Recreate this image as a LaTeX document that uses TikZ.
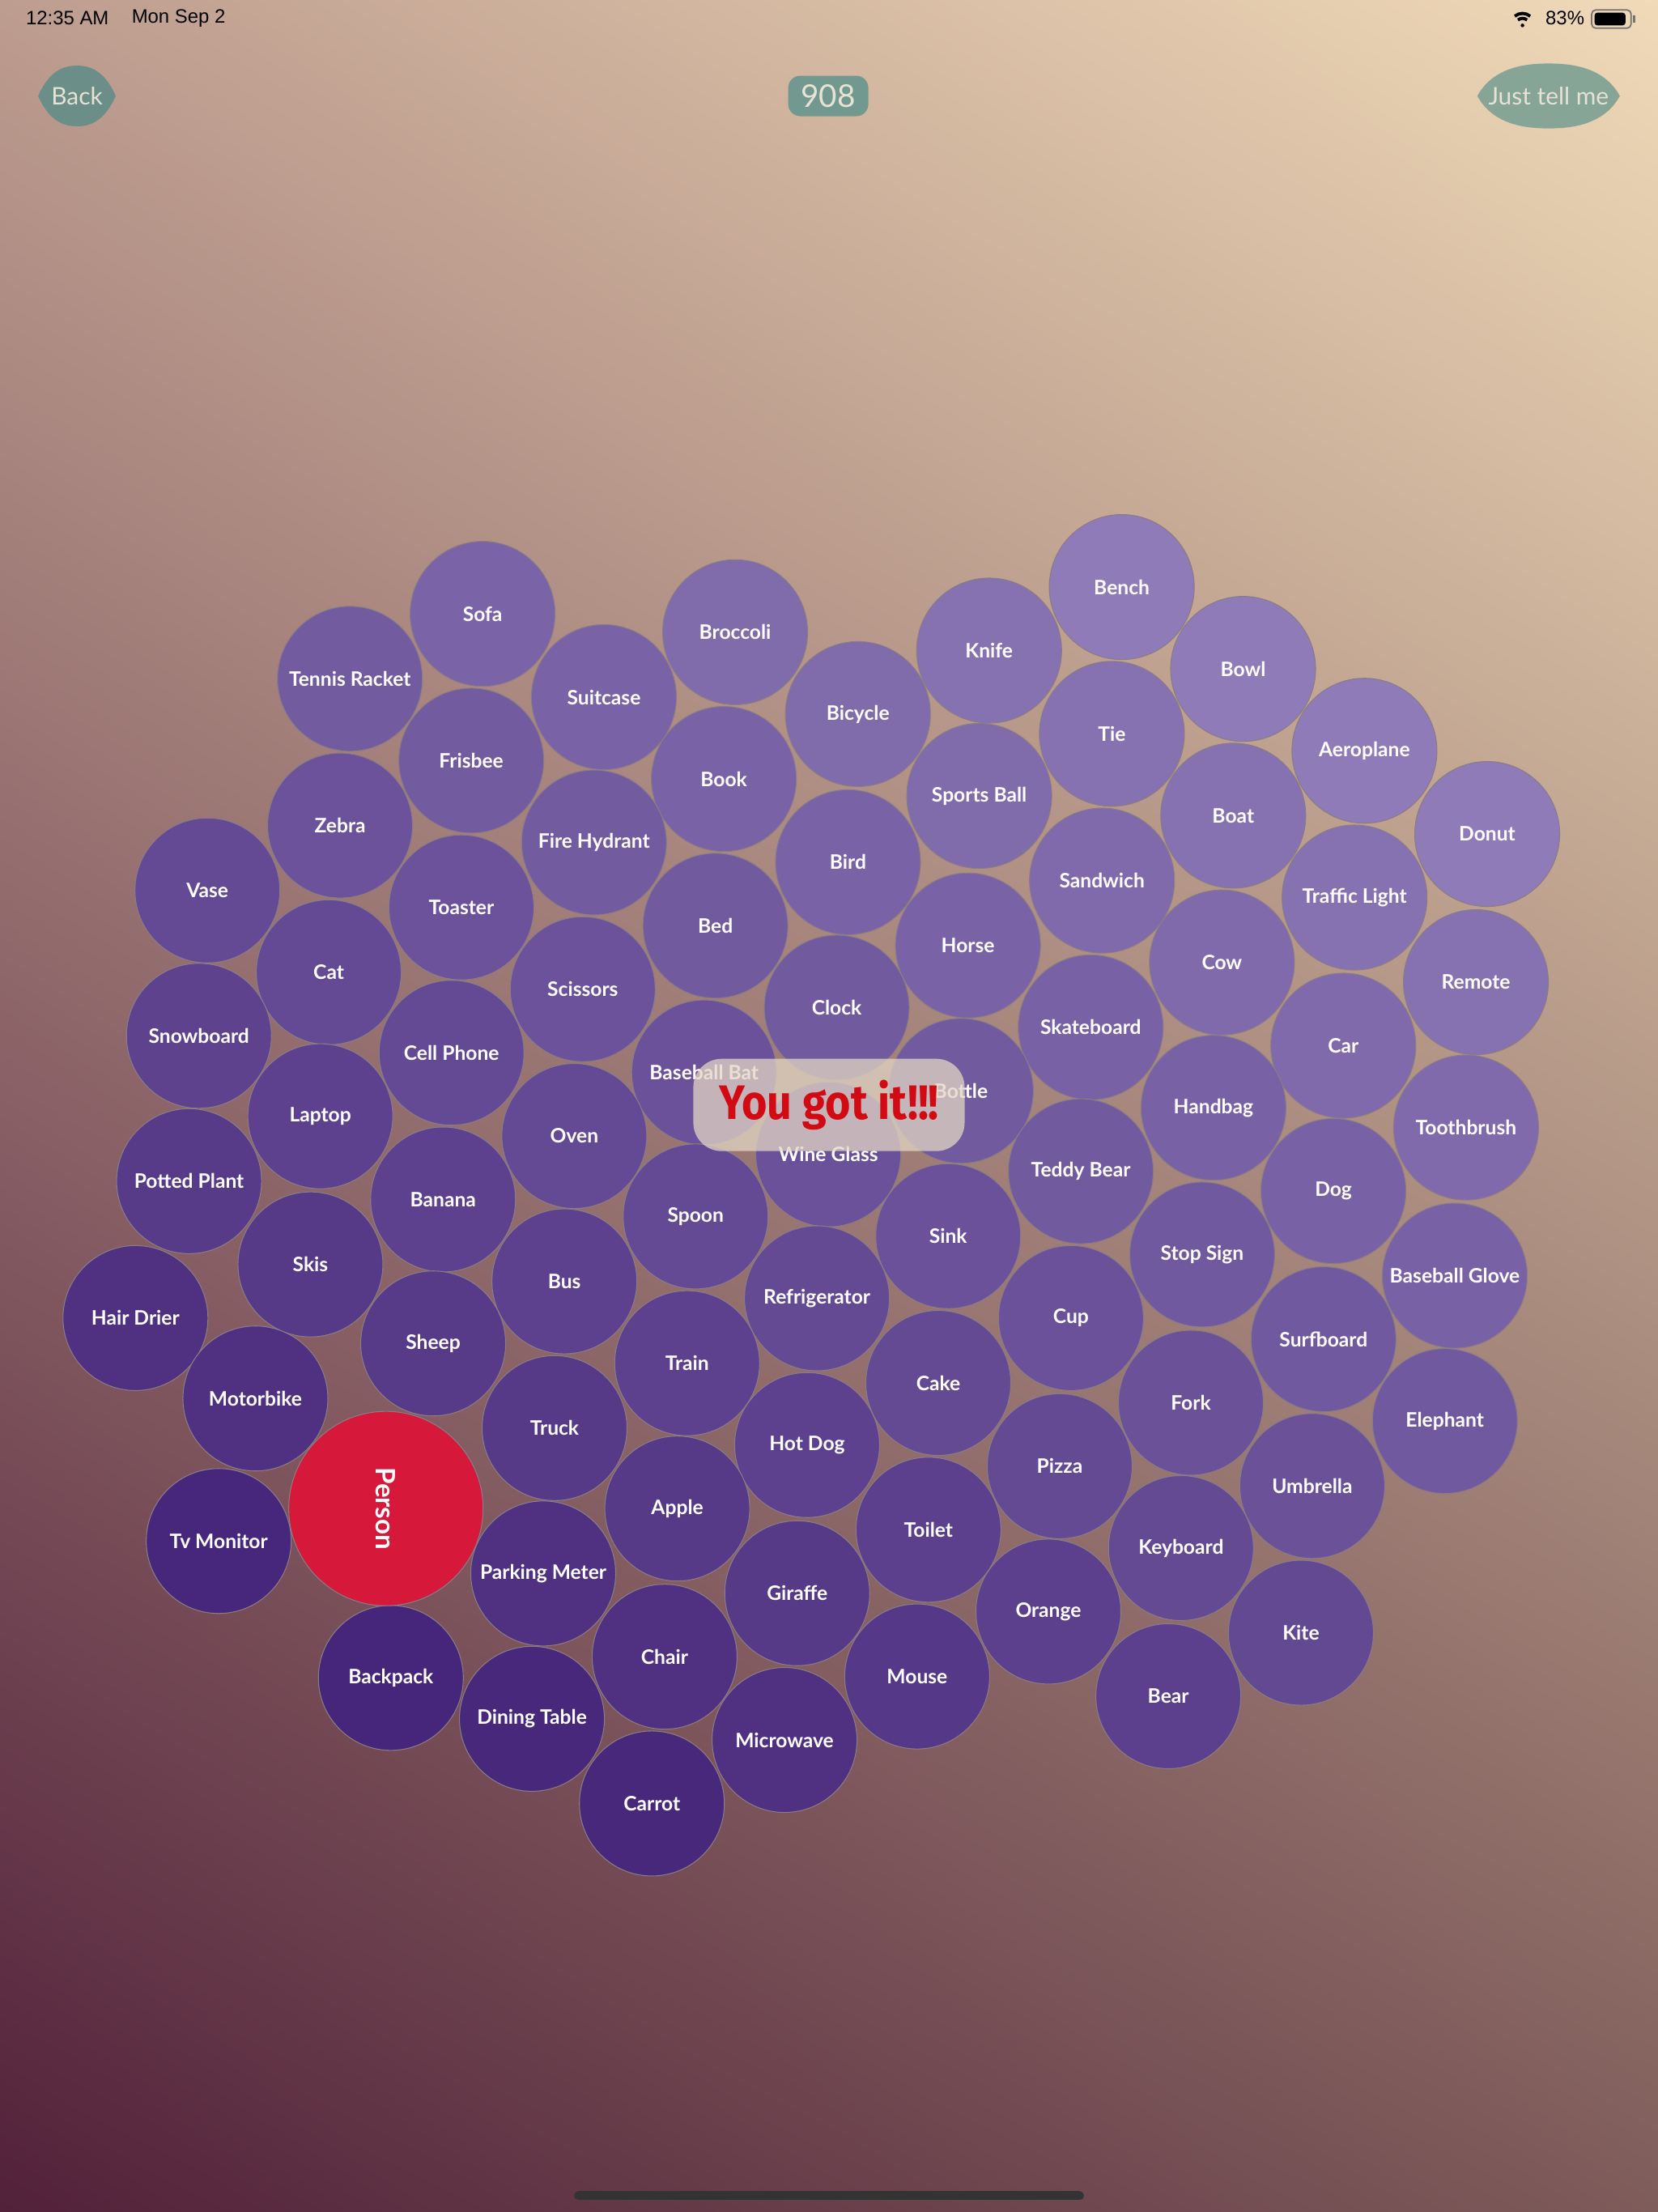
\documentclass[tikz,border=0pt]{standalone}
\usepackage{fontspec}
\setmainfont{Lato}
\newfontfamily\statfont{Liberation Sans}
\newfontfamily\gotfont{Fira Sans}
\usetikzlibrary{shadings}

\definecolor{bubhi}{HTML}{8E7BB7}
\definecolor{bublo}{HTML}{46267A}
\definecolor{bubedge}{HTML}{8A7C86}
\definecolor{personred}{HTML}{D6183A}
\definecolor{bgtl}{HTML}{BD9D8F}
\definecolor{bgtr}{HTML}{F0DAB8}
\definecolor{bgbl}{HTML}{52213A}
\definecolor{bgbr}{HTML}{7E5C5A}
\definecolor{backgreen}{HTML}{6C8E88}
\definecolor{tellgreen}{HTML}{86A597}
\definecolor{scoregreen}{HTML}{72998F}
\definecolor{btntext}{HTML}{E8E2D4}
\definecolor{gotred}{HTML}{D20A14}
\definecolor{gotbg}{HTML}{E2D6C4}

\begin{document}
\begin{tikzpicture}[
x=0.01743cm, y=-0.01743cm,
bub/.style={
    circle,
    draw=bubedge,
    line width=0.3pt,
    fill=bubhi!#1!bublo,
    inner sep=0pt,
    minimum size=1.79cm,
    text=white,
    font=\fontsize{7}{8}\selectfont\bfseries
    },
personbub/.style={
    bub=0,
    fill=personred,
    minimum size=2.4cm,
    rotate=-90,
    font=\fontsize{9.4}{10}\selectfont\bfseries
    },
btn/.style={
    inner sep=0pt,
    text=btntext,
    font=\fontsize{8.5}{9}\selectfont
    },
stat/.style={
    inner sep=0pt,
    anchor=west,
    font=\statfont\fontsize{6.8}{7}\selectfont
    },
]
\shade[upper left=bgtl, upper right=bgtr, lower left=bgbl, lower right=bgbr] (0,0) rectangle (1175,1567.5);

% status bar
\node[stat] (time) at (18,13) {12:35 AM};
\node[stat] (date) at (93,13) {Mon Sep 2};
\node[stat] (charge) at (1095,13) {83\%};
\fill (1079,18) circle (1.3);
\draw[line width=1.1pt] (1079,18) ++(-50:5) arc[start angle=-50, end angle=-130, radius=5];
\draw[line width=1.1pt] (1079,18) ++(-50:8.5) arc[start angle=-50, end angle=-130, radius=8.5];
\draw[black!55, line width=0.5pt, rounded corners=1.5pt] (1128,7) rectangle (1156,20);
\fill[rounded corners=1pt] (1130,9) rectangle (1152,18);
\fill[black!55] (1157,11) rectangle (1159,16);

% buttons
\fill[backgreen] (27,68) .. controls (35,50) and (45,46.5) .. (54.5,46.5) .. controls (64,46.5) and (74,50) .. (82,68) .. controls (74,86) and (64,89.5) .. (54.5,89.5) .. controls (45,89.5) and (35,86) .. cycle;
\node[btn] (back) at (54.5,68) {Back};
\fill[tellgreen] (1047,68) .. controls (1058,48) and (1080,45) .. (1097.5,45) .. controls (1115,45) and (1137,48) .. (1148,68) .. controls (1137,88) and (1115,91) .. (1097.5,91) .. controls (1080,91) and (1058,88) .. cycle;
\node[btn] (tell) at (1097.5,68) {Just tell me};
\node[btn, fill=scoregreen, rounded corners=0.15cm, minimum width=0.99cm, minimum height=0.5cm, font=\fontsize{11}{12}\selectfont] (score) at (587,68) {908};

% bubbles
\node[bub=72] (sofa) at (342,435) {Sofa};
\node[bub=62] (tennisracket) at (248,481) {Tennis Racket};
\node[bub=81] (broccoli) at (521,448) {Broccoli};
\node[bub=71] (suitcase) at (428,494) {Suitcase};
\node[bub=62] (frisbee) at (334,539) {Frisbee};
\node[bub=100] (bench) at (795,416) {Bench};
\node[bub=90] (knife) at (701,461) {Knife};
\node[bub=100] (bowl) at (881,474) {Bowl};
\node[bub=81] (bicycle) at (608,506) {Bicycle};
\node[bub=90] (tie) at (788,520) {Tie};
\node[bub=100] (aeroplane) at (967,532) {Aeroplane};
\node[bub=71] (book) at (513,552) {Book};
\node[bub=81] (sportsball) at (694,564) {Sports Ball};
\node[bub=52] (zebra) at (241,585) {Zebra};
\node[bub=90] (boat) at (874,578) {Boat};
\node[bub=100] (donut) at (1054,591) {Donut};
\node[bub=62] (firehydrant) at (421,597) {Fire Hydrant};
\node[bub=71] (bird) at (601,611) {Bird};
\node[bub=80] (sandwich) at (781,624) {Sandwich};
\node[bub=42] (vase) at (147,631) {Vase};
\node[bub=90] (trafficlight) at (960,636) {Traffic Light};
\node[bub=52] (toaster) at (327,643) {Toaster};
\node[bub=61] (bed) at (507,656) {Bed};
\node[bub=71] (horse) at (686,670) {Horse};
\node[bub=80] (cow) at (866,682) {Cow};
\node[bub=42] (cat) at (233,689) {Cat};
\node[bub=89] (remote) at (1046,696) {Remote};
\node[bub=52] (scissors) at (413,701) {Scissors};
\node[bub=61] (clock) at (593,714) {Clock};
\node[bub=70] (skateboard) at (773,728) {Skateboard};
\node[bub=33] (snowboard) at (141,734) {Snowboard};
\node[bub=80] (car) at (952,741) {Car};
\node[bub=42] (cellphone) at (320,746) {Cell Phone};
\node[bub=51] (baseballbat) at (499,760) {Baseball Bat};
\node[bub=61] (bottle) at (681,773) {Bottle};
\node[bub=70] (handbag) at (860,785) {Handbag};
\node[bub=32] (laptop) at (227,791) {Laptop};
\node[bub=80] (toothbrush) at (1039,799) {Toothbrush};
\node[bub=42] (oven) at (407,805) {Oven};
\node[bub=51] (wineglass) at (587,818) {Wine Glass};
\node[bub=61] (teddybear) at (766,830) {Teddy Bear};
\node[bub=23] (pottedplant) at (134,837) {Potted Plant};
\node[bub=70] (dog) at (945,844) {Dog};
\node[bub=32] (banana) at (314,850) {Banana};
\node[bub=42] (spoon) at (493,862) {Spoon};
\node[bub=51] (sink) at (672,876) {Sink};
\node[bub=60] (stopsign) at (852,889) {Stop Sign};
\node[bub=22] (skis) at (220,896) {Skis};
\node[bub=70] (baseballglove) at (1031,904) {Baseball Glove};
\node[bub=32] (bus) at (400,908) {Bus};
\node[bub=41] (refrigerator) at (579,920) {Refrigerator};
\node[bub=12] (hairdrier) at (96,934) {Hair Drier};
\node[bub=51] (cup) at (759,934) {Cup};
\node[bub=60] (surfboard) at (938,949) {Surfboard};
\node[bub=23] (sheep) at (307,952) {Sheep};
\node[bub=32] (train) at (487,966) {Train};
\node[bub=41] (cake) at (665,980) {Cake};
\node[bub=12] (motorbike) at (181,991) {Motorbike};
\node[bub=50] (fork) at (844,994) {Fork};
\node[bub=60] (elephant) at (1024,1007) {Elephant};
\node[bub=22] (truck) at (393,1012) {Truck};
\node[bub=32] (hotdog) at (572,1024) {Hot Dog};
\node[bub=41] (pizza) at (751,1039) {Pizza};
\node[bub=50] (umbrella) at (930,1053) {Umbrella};
\node[bub=22] (apple) at (480,1069) {Apple};
\node[bub=31] (toilet) at (658,1084) {Toilet};
\node[bub=1] (tvmonitor) at (155,1092) {Tv Monitor};
\node[bub=41] (keyboard) at (837,1097) {Keyboard};
\node[bub=12] (parkingmeter) at (385,1115) {Parking Meter};
\node[bub=22] (giraffe) at (565,1129) {Giraffe};
\node[bub=31] (orange) at (743,1142) {Orange};
\node[bub=40] (kite) at (922,1157) {Kite};
\node[bub=12] (chair) at (471,1174) {Chair};
\node[bub=21] (mouse) at (650,1188) {Mouse};
\node[bub=0] (backpack) at (277,1189) {Backpack};
\node[bub=31] (bear) at (828,1202) {Bear};
\node[bub=2] (diningtable) at (377,1218) {Dining Table};
\node[bub=12] (microwave) at (556,1233) {Microwave};
\node[bub=2] (carrot) at (462,1278) {Carrot};
\node[personbub] (person) at (273.5,1069) {Person};

% overlay
\node[fill=gotbg, fill opacity=0.75, text opacity=1, text=gotred, rounded corners=0.35cm, minimum width=3.35cm, minimum height=1.14cm, inner sep=0pt, font=\gotfont\bfseries\fontsize{17}{18}\selectfont] (gotit) at (587.5,783) {\scalebox{0.9}[1]{You got it!!!}};

% home indicator
\draw[black!80, line width=0.11cm, line cap=round] (410,1556) -- (765,1556);
\end{tikzpicture}
\end{document}
